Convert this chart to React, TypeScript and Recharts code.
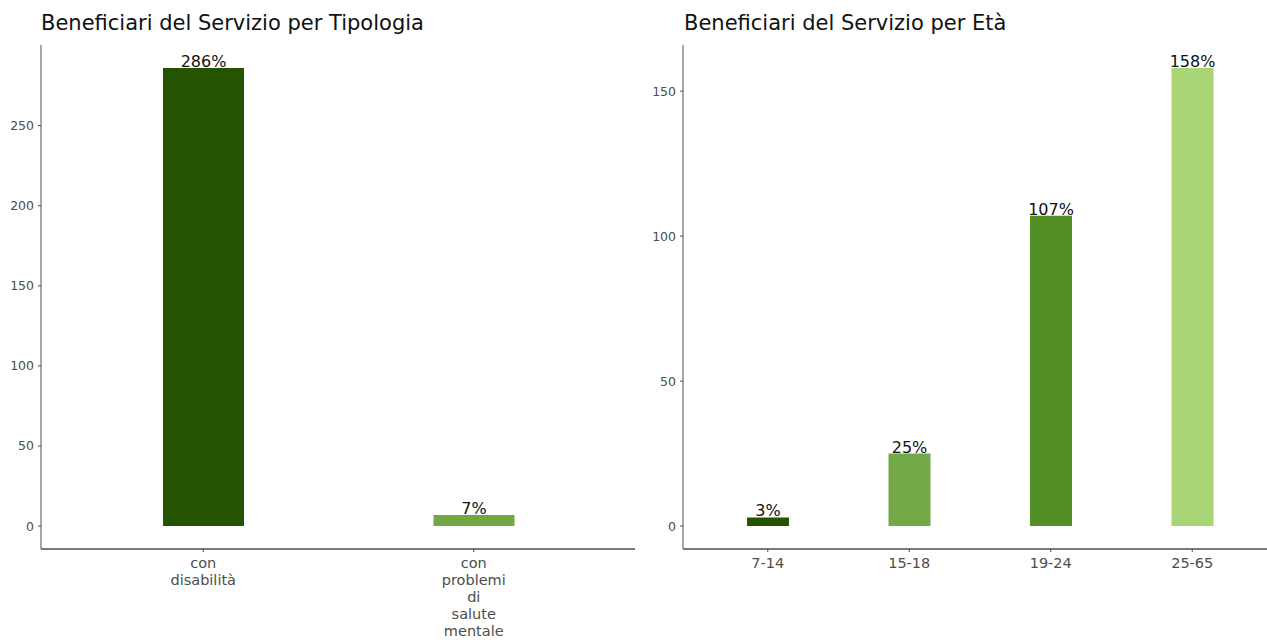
import { BarChart, Bar, XAxis, YAxis, LabelList, Cell } from 'recharts'

const tipologie = ['con disabilità', 'con problemi di salute mentale']
const tipologiaValori = [286, 7]
const tipologiaColori = ['#245400', '#71a843']
const tipologiaTicks = [0, 50, 100, 150, 200, 250]

const eta = ['7-14', '15-18', '19-24', '25-65']
const etaValori = [3, 25, 107, 158]
const etaColori = ['#245400', '#72a845', '#548f25', '#a8d476']
const etaTicks = [0, 50, 100, 150]

const font = '"DejaVu Sans", sans-serif'

const datiTipologia = tipologie.map((nome, i) => ({ nome, valore: tipologiaValori[i] }))
const datiEta = eta.map((nome, i) => ({ nome, valore: etaValori[i] }))

function MultiLineTick(props: any) {
  const { x, y, payload } = props
  const words = String(payload.value).split(' ')
  return (
    <text x={x} y={y} textAnchor="middle" fill="#4d4d4d" fontSize={14.5} fontFamily={font}>
      {words.map((w, i) => (
        <tspan key={i} x={x} dy={i === 0 ? 14 : 17}>{w}</tspan>
      ))}
    </text>
  )
}

const pct = (v: any) => `${v}%`

export default function App() {
  return (
    <div style={{ position: 'absolute', left: 0, top: 0, width: 1267, height: 640, background: '#fff', overflow: 'hidden', fontFamily: font }}>
      <div style={{ position: 'absolute', left: 41, top: 11, fontSize: 21, color: '#111', whiteSpace: 'nowrap' }}>
        Beneficiari del Servizio per Tipologia
      </div>
      <div style={{ position: 'absolute', left: 684, top: 11, fontSize: 21, color: '#111', whiteSpace: 'nowrap' }}>
        Beneficiari del Servizio per Età
      </div>

      <div style={{ position: 'absolute', left: 0, top: 0 }}>
        <BarChart width={640} height={640} data={datiTipologia} margin={{ top: 45, right: 5, bottom: 0, left: 0 }}>
          <XAxis
            dataKey="nome"
            height={91}
            padding={{ left: 27, right: 26 }}
            tickSize={3}
            tickLine={{ stroke: '#4d4d4d' }}
            axisLine={{ stroke: '#4d4d4d', strokeWidth: 1.5 }}
            tick={<MultiLineTick />}
            interval={0}
          />
          <YAxis
            width={41}
            domain={[-14.3, 300.3]}
            ticks={tipologiaTicks}
            tickSize={3}
            tickMargin={4}
            tickLine={{ stroke: '#4d4d4d' }}
            axisLine={{ stroke: '#6b6b6b', strokeWidth: 1.2 }}
            tick={{ fill: '#4d4d4d', fontSize: 12.5, fontFamily: font }}
            allowDataOverflow
          />
          <Bar dataKey="valore" barSize={81} isAnimationActive={false}>
            {datiTipologia.map((d, i) => (
              <Cell key={d.nome} fill={tipologiaColori[i]} />
            ))}
            <LabelList dataKey="valore" position="top" offset={1} formatter={pct} fill="#111" fontSize={16} fontFamily={font} />
          </Bar>
        </BarChart>
      </div>

      <div style={{ position: 'absolute', left: 640, top: 0 }}>
        <BarChart width={627} height={640} data={datiEta} margin={{ top: 45, right: 0, bottom: 0, left: 0 }}>
          <XAxis
            dataKey="nome"
            height={91}
            padding={{ left: 14, right: 4 }}
            tickSize={3}
            tickLine={{ stroke: '#4d4d4d' }}
            axisLine={{ stroke: '#4d4d4d', strokeWidth: 1.5 }}
            tick={<MultiLineTick />}
            interval={0}
          />
          <YAxis
            width={43}
            domain={[-7.9, 165.9]}
            ticks={etaTicks}
            tickSize={3}
            tickMargin={4}
            tickLine={{ stroke: '#4d4d4d' }}
            axisLine={{ stroke: '#6b6b6b', strokeWidth: 1.2 }}
            tick={{ fill: '#4d4d4d', fontSize: 12.5, fontFamily: font }}
            allowDataOverflow
          />
          <Bar dataKey="valore" barSize={42} isAnimationActive={false}>
            {datiEta.map((d, i) => (
              <Cell key={d.nome} fill={etaColori[i]} />
            ))}
            <LabelList dataKey="valore" position="top" offset={1} formatter={pct} fill="#111" fontSize={16} fontFamily={font} />
          </Bar>
        </BarChart>
      </div>
    </div>
  )
}
